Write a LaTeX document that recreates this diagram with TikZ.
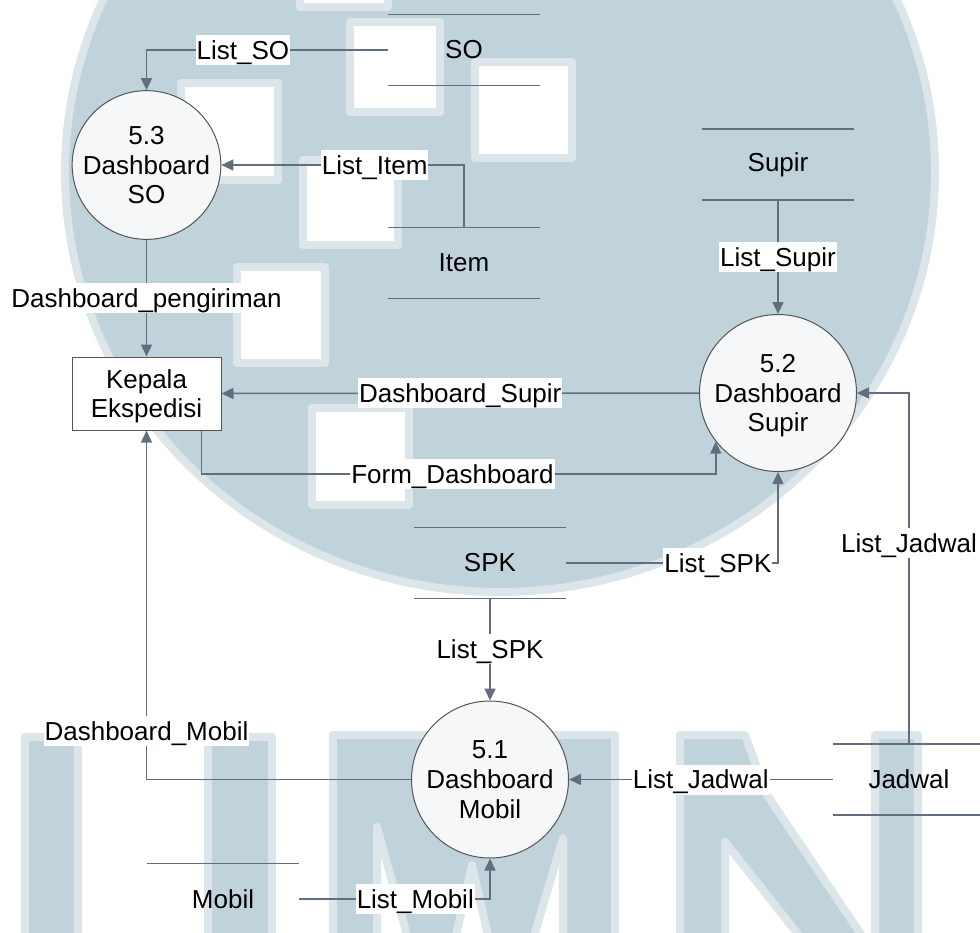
\documentclass[tikz,border=0pt]{standalone}
\usepackage{fontspec}
\setmainfont{Liberation Sans}
\usetikzlibrary{arrows.meta,calc}
\definecolor{wm}{RGB}{193,211,218}
\definecolor{wmsoft}{RGB}{220,230,234}
\definecolor{flowc}{RGB}{98,110,128}
\definecolor{bubblefill}{RGB}{245,247,248}
\definecolor{edgec}{RGB}{85,85,85}
\begin{document}
\begin{tikzpicture}[x=0.5pt,y=-0.5pt,
  every node/.style={font=\fontsize{13}{14.8}\selectfont, align=center},
  bubble/.style={circle, draw=edgec, line width=0.5pt, fill=bubblefill,
    inner sep=0pt, minimum size=#1, text depth=0pt},
  entity/.style={rectangle, draw=edgec, line width=0.5pt, fill=white,
    inner sep=0pt, minimum width=74.5pt, minimum height=36.5pt, text depth=0pt},
  store/.style={inner sep=0pt, minimum width=76pt, minimum height=35pt},
  storeline/.style={draw=flowc, line width=0.75pt},
  flow/.style={draw=flowc, line width=0.75pt, -{Triangle[length=6pt,width=5.5pt]}},
  lbl/.style={fill=white, inner xsep=0.5pt, inner ysep=0pt,
    text height=12.2pt, text depth=2.8pt},
  wmshape/.style={fill=wm, draw=wmsoft, line width=4pt, line join=round},
  wmhole/.style={fill=white, draw=wmsoft, line width=4pt, line join=round}
]
\useasboundingbox (0,0) rectangle (980,932);

% background emblem: disc with square cut-outs and letters U M N
\begin{scope}
  \clip (0,0) rectangle (980,932);
  \path[wmshape] (500,172) ellipse [x radius=217.5pt, y radius=210pt];
  \foreach \a/\b/\c/\d in {300/-20/388/7, 350/22/440/112, 475/62/572/158,
      181/83/278/180, 303/160/398/245, 237/267/325/363, 312/408/409/505}
    \path[wmhole] (\a,\b) rectangle (\c,\d);
  % U
  \path[wmshape] (25,737) rectangle (78,1000);
  \path[wmshape] (208,737) rectangle (272,1000);
  % M
  \path[wmshape] (333,735) rectangle (615,1000);
  \path[wmhole] (377,827) -- (377,1000) -- (425,1000) -- cycle;
  \path[wmhole] (563,838) -- (563,1000) -- (515,1000) -- cycle;
  \path[wmhole] (472,865) -- (455,940) -- (489,940) -- cycle;
  % N
  \path[wmshape] (680,735) -- (745,735) -- (767,795) -- (875,955) -- (875,735)
    -- (918,735) -- (918,1000) -- (850,1000) -- (725,842) -- (725,1000)
    -- (680,1000) -- cycle;
\end{scope}

% processes
\node[bubble=73pt] (p53) at (146.5,165) {5.3\\Dashboard\\SO};
\node[bubble=78.5pt] (p52) at (778,393) {5.2\\Dashboard\\Supir};
\node[bubble=78.5pt] (p51) at (490,779.5) {5.1\\Dashboard\\Mobil};

% external entity
\node[entity] (kepala) at (146.5,393.5) {Kepala\\Ekspedisi};

% data stores
\node[store] (so) at (464,50) {SO};
\node[store] (item) at (464,263) {Item};
\node[store] (supir) at (778,164.5) {Supir};
\node[store] (spk) at (490,563) {SPK};
\node[store] (jadwal) at (909,779.5) {Jadwal};
\node[store] (mobil) at (223,899) {Mobil};
\foreach \s in {so,item,supir,spk,jadwal,mobil}
  \draw[storeline] (\s.north west) -- (\s.north east)
                   (\s.south west) -- (\s.south east);

% data flows
\draw[flow] (so.west) -| node[lbl,pos=0.3]{List\_SO} (p53.north);
\draw[flow] (item.north) |- node[lbl,pos=0.684]{List\_Item} (p53.east);
\draw[flow] (p53.south) -- node[lbl]{Dashboard\_pengiriman} (kepala.north);
\draw[flow] (p52.west) -- node[lbl]{Dashboard\_Supir} (kepala.east);
\coordinate (fdlevel) at (0,474);
\draw[flow] ($(kepala.south east)+(-20,0)$) |- node[lbl,pos=0.744]{Form\_Dashboard}
  (p52.218 |- fdlevel) -- (p52.218);
\draw[flow] (supir.south) -- node[lbl]{List\_Supir} (p52.north);
\draw[flow] (jadwal.north) |- node[lbl,pos=0.286]{List\_Jadwal} (p52.east);
\draw[flow] (jadwal.west) -- node[lbl]{List\_Jadwal} (p51.east);
\draw[flow] (spk.east) -| node[lbl,pos=0.358]{List\_SPK} (p52.south);
\draw[flow] (spk.south) -- node[lbl]{List\_SPK} (p51.north);
\draw[flow] (p51.west) -| node[lbl,pos=0.569]{Dashboard\_Mobil} (kepala.south);
\draw[flow] (mobil.east) -| node[lbl,pos=0.304]{List\_Mobil} (p51.south);
\end{tikzpicture}
\end{document}
